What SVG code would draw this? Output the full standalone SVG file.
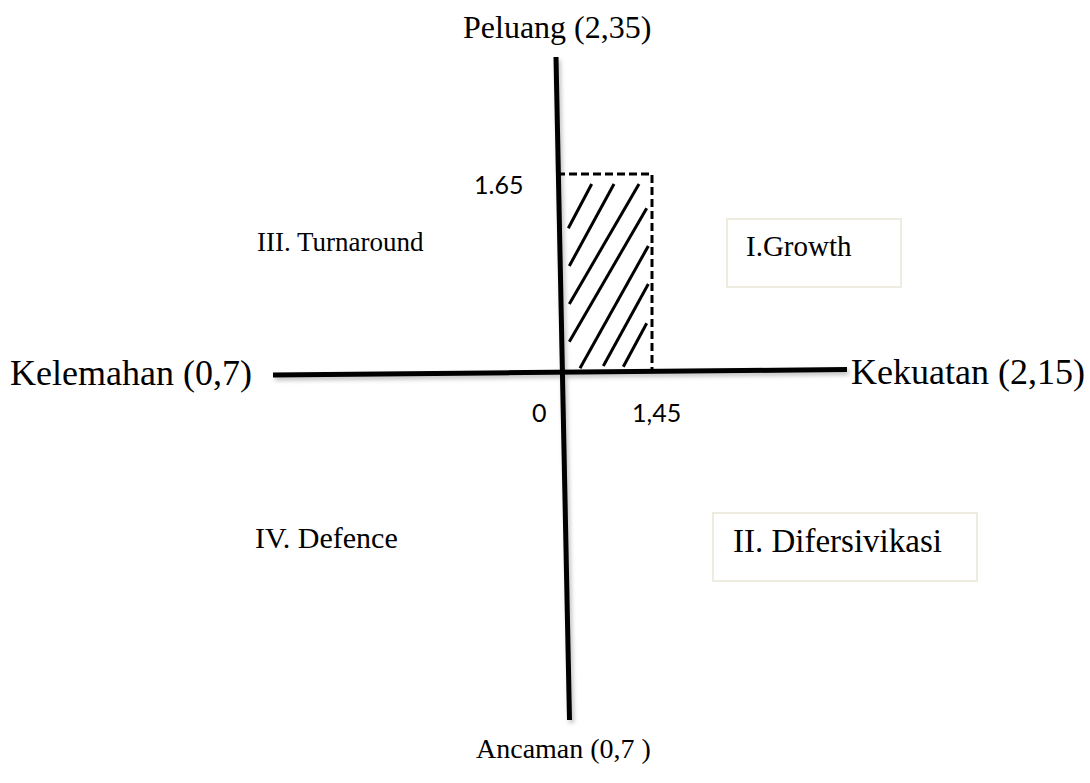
<svg xmlns="http://www.w3.org/2000/svg" width="1090" height="783" viewBox="0 0 1090 783">
  <defs>
    <filter id="soft-shadow" x="-10%" y="-10%" width="120%" height="120%">
      <feDropShadow dx="2" dy="3" stdDeviation="2" flood-color="#000" flood-opacity="0.25"/>
    </filter>
    <style>
      .serif { font-family: "Liberation Serif", "Times New Roman", serif; fill: #000; }
      .num { font-family: Lato, "Open Sans", sans-serif; font-size: 25px; fill: #000; }
      .axis { stroke: #000; stroke-width: 5; stroke-linecap: butt; fill: none; }
      .dash { stroke: #000; stroke-width: 3; stroke-dasharray: 8 4; fill: none; }
      .hatch { stroke: #000; stroke-width: 3; stroke-linecap: butt; fill: none; }
      .box { fill: #fff; stroke: #eeebe0; stroke-width: 2; }
    </style>
  </defs>

  <rect width="1090" height="783" fill="#fff"/>

  <!-- strategy area (hatched region up to 1.45 / 1.65) -->
  <g id="area">
    <polyline class="dash" points="557,174 652,174 652,373"/>
    <line class="hatch" x1="591.7" y1="184" x2="568.3" y2="228.3"/>
    <line class="hatch" x1="614" y1="184" x2="569.3" y2="266"/>
    <line class="hatch" x1="639" y1="184" x2="569.3" y2="304"/>
    <line class="hatch" x1="646.7" y1="208.3" x2="569.3" y2="341.7"/>
    <line class="hatch" x1="648.3" y1="246" x2="580" y2="368.3"/>
    <line class="hatch" x1="648.3" y1="284" x2="603.3" y2="366"/>
    <line class="hatch" x1="646.7" y1="323.3" x2="623.3" y2="366.7"/>
  </g>

  <!-- axes -->
  <g id="connectors" filter="url(#soft-shadow)">
    <line class="axis" x1="273" y1="375" x2="847" y2="369.5"/>
    <line class="axis" x1="556" y1="57" x2="569.5" y2="720"/>
  </g>

  <!-- axis end labels -->
  <g id="peluang"><text class="serif" x="463" y="38" style="font-size:32px">Peluang (2,35)</text></g>
  <g id="ancaman"><text class="serif" x="476" y="758" style="font-size:28px">Ancaman (0,7 )</text></g>
  <g id="kelemahan"><text class="serif" x="10" y="385" style="font-size:36px">Kelemahan (0,7)</text></g>
  <g id="kekuatan"><text class="serif" x="851" y="384" style="font-size:36px">Kekuatan (2,15)</text></g>

  <!-- axis values -->
  <g id="val-165"><text class="num" x="474" y="194">1.65</text></g>
  <g id="val-0"><text class="num" x="532" y="422">0</text></g>
  <g id="val-145"><text class="num" x="632" y="422">1,45</text></g>

  <!-- quadrants -->
  <g id="q3"><text class="serif" x="257" y="251" style="font-size:27px">III. Turnaround</text></g>
  <g id="q1">
    <rect class="box" x="727" y="219" width="174" height="68"/>
    <text class="serif" x="746" y="256" style="font-size:29px">I.Growth</text>
  </g>
  <g id="q4"><text class="serif" x="255" y="548" style="font-size:30px">IV. Defence</text></g>
  <g id="q2">
    <rect class="box" x="713" y="513" width="264" height="68"/>
    <text class="serif" x="733" y="552" style="font-size:33px">II. Difersivikasi</text>
  </g>
</svg>
